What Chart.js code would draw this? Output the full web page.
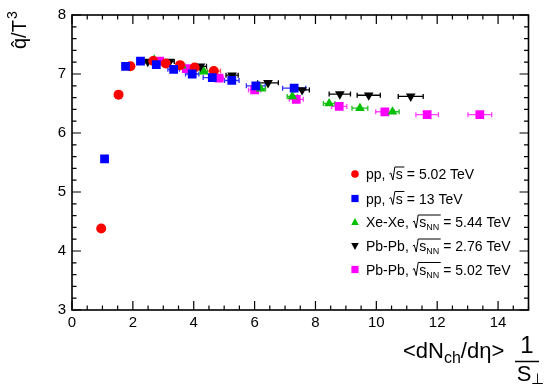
<!DOCTYPE html>
<html>
<head>
<meta charset="utf-8">
<script src="https://cdn.jsdelivr.net/npm/chart.js@4.4.1/dist/chart.umd.min.js"></script>
<style>
  html, body { margin: 0; padding: 0; background: #fff; }
</style>
</head>
<body>
<canvas id="chart" width="550" height="387"></canvas>
<script>
// ---------------- DATA ----------------
const pp502X = [0.96, 1.53, 1.92, 2.67, 3.08, 3.55, 4.03, 4.66];
const pp502Y = [4.38, 6.65, 7.13, 7.22, 7.18, 7.15, 7.11, 7.05];
const pp502E = [0.03, 0.05, 0.06, 0.08, 0.1, 0.12, 0.16, 0.22];

const pp13X = [1.07, 1.76, 2.25, 2.77, 3.34, 3.95, 4.61, 5.25, 6.04, 7.30];
const pp13Y = [5.56, 7.13, 7.22, 7.16, 7.08, 7.00, 6.94, 6.89, 6.80, 6.76];
const pp13E = [0.03, 0.05, 0.07, 0.1, 0.19, 0.22, 0.3, 0.24, 0.31, 0.38];

const xexeX = [2.70, 3.61, 4.33, 6.20, 7.24, 8.45, 9.46, 10.53];
const xexeY = [7.24, 7.14, 7.04, 6.75, 6.62, 6.50, 6.42, 6.36];
const xexeE = [0.08, 0.1, 0.12, 0.16, 0.17, 0.19, 0.26, 0.22];

const pbpb276X = [2.49, 3.21, 4.22, 5.26, 6.44, 7.56, 8.80, 9.75, 11.13];
const pbpb276Y = [7.21, 7.21, 7.13, 6.98, 6.85, 6.73, 6.66, 6.64, 6.62];
const pbpb276E = [0.1, 0.15, 0.2, 0.2, 0.34, 0.24, 0.35, 0.38, 0.41];

const pbpb502X = [2.88, 3.76, 4.83, 6.00, 7.37, 8.78, 10.28, 11.67, 13.40];
const pbpb502Y = [7.22, 7.09, 6.93, 6.73, 6.57, 6.45, 6.36, 6.31, 6.31];
const pbpb502E = [0.1, 0.12, 0.15, 0.2, 0.23, 0.25, 0.3, 0.37, 0.39];

const xTicks = [0, 2, 4, 6, 8, 10, 12, 14];
const yTicks = [3, 4, 5, 6, 7, 8];

const FONT = "'Liberation Sans', Arial, sans-serif";

// ---------------- SERIES ----------------
const series = [
  { label: "pp", energy: "5.02", nn: false, x: pp502X, y: pp502Y, e: pp502E,
    color: "#ff0000", err: "#ff5050", style: "circle", radius: 5, order: 1 },
  { label: "pp", energy: "13", nn: false, x: pp13X, y: pp13Y, e: pp13E,
    color: "#0000ff", err: "#3030ff", style: "rect", radius: 6.2, order: 0 },
  { label: "Xe-Xe", energy: "5.44", nn: true, x: xexeX, y: xexeY, e: xexeE,
    color: "#00c000", err: "#20c020", style: "triangle", radius: 5.6, order: 3 },
  { label: "Pb-Pb", energy: "2.76", nn: true, x: pbpb276X, y: pbpb276Y, e: pbpb276E,
    color: "#000000", err: "#000000", style: "triangle", rotation: 180, radius: 5.6, order: 2 },
  { label: "Pb-Pb", energy: "5.02", nn: true, x: pbpb502X, y: pbpb502Y, e: pbpb502E,
    color: "#ff00ff", err: "#ff40ff", style: "rect", radius: 6.2, order: 4 }
];

const datasets = series.map(s => ({
  label: s.label,
  data: s.x.map((v, i) => ({ x: v, y: s.y[i] })),
  backgroundColor: s.color,
  borderColor: s.color,
  borderWidth: 0,
  pointStyle: s.style,
  rotation: s.rotation || 0,
  pointRadius: s.radius,
  pointHoverRadius: s.radius,
  order: s.order
}));

// ---------------- PLUGINS ----------------
// horizontal error bars under the markers
const errorBars = {
  id: "errorBars",
  beforeDatasetsDraw(chart) {
    const ctx = chart.ctx, xs = chart.scales.x, ys = chart.scales.y;
    ctx.save();
    ctx.lineWidth = 1.3;
    series.forEach(s => {
      ctx.strokeStyle = s.err;
      s.x.forEach((v, i) => {
        const x1 = xs.getPixelForValue(v - s.e[i]);
        const x2 = xs.getPixelForValue(v + s.e[i]);
        const y = ys.getPixelForValue(s.y[i]);
        ctx.beginPath();
        ctx.moveTo(x1, y); ctx.lineTo(x2, y);
        ctx.moveTo(x1, y - 2.5); ctx.lineTo(x1, y + 2.5);
        ctx.moveTo(x2, y - 2.5); ctx.lineTo(x2, y + 2.5);
        ctx.stroke();
      });
    });
    ctx.restore();
  }
};

function marker(ctx, s, x, y) {
  ctx.fillStyle = s.color;
  ctx.beginPath();
  if (s.style === "circle") {
    ctx.arc(x, y, 3.8, 0, Math.PI * 2);
  } else if (s.style === "rect") {
    ctx.rect(x - 3.6, y - 3.6, 7.2, 7.2);
  } else {
    const d = s.rotation ? -1 : 1;
    ctx.moveTo(x, y - 4 * d);
    ctx.lineTo(x - 3.8, y + 3 * d);
    ctx.lineTo(x + 3.8, y + 3 * d);
    ctx.closePath();
  }
  ctx.fill();
}

function sqrtText(ctx, x, base, nn) {
  // radical sign with overline over s (and NN)
  ctx.font = "14px " + FONT;
  const sw = ctx.measureText("s").width;
  ctx.font = "9px " + FONT;
  const nw = nn ? ctx.measureText("NN").width : 0;
  const top = base - 12;
  ctx.lineWidth = 1;
  ctx.strokeStyle = "#000";
  ctx.beginPath();
  ctx.moveTo(x, base - 5);
  ctx.lineTo(x + 1.5, base - 6);
  ctx.lineTo(x + 3.5, base + 1);
  ctx.lineTo(x + 5.5, top);
  ctx.lineTo(x + 7 + sw + nw + 1, top);
  ctx.stroke();
  ctx.font = "14px " + FONT;
  ctx.fillText("s", x + 6.5, base);
  let end = x + 6.5 + sw;
  if (nn) {
    ctx.font = "9px " + FONT;
    ctx.fillText("NN", end, base + 3);
    end += nw;
  }
  return end + 2;
}

const decorations = {
  id: "decorations",
  afterDraw(chart) {
    const ctx = chart.ctx, xs = chart.scales.x, ys = chart.scales.y;
    const a = chart.chartArea;
    ctx.save();

    // frame
    ctx.strokeStyle = "#000";
    ctx.lineWidth = 1.6;
    ctx.strokeRect(a.left, a.top, a.right - a.left, a.bottom - a.top);

    // inward ticks on all four sides
    ctx.lineWidth = 1.2;
    ctx.beginPath();
    for (let v = 0; v <= 15.001; v += 0.5) {
      const px = xs.getPixelForValue(v);
      const len = (Math.abs(v % 2) < 1e-6) ? 9 : 4.5;
      ctx.moveTo(px, a.bottom); ctx.lineTo(px, a.bottom - len);
      ctx.moveTo(px, a.top); ctx.lineTo(px, a.top + len);
    }
    for (let k = 0; k <= 25; k++) {
      const v = 3 + k * 0.2;
      const py = ys.getPixelForValue(v);
      const len = (k % 5 === 0) ? 9 : 4.5;
      ctx.moveTo(a.left, py); ctx.lineTo(a.left + len, py);
      ctx.moveTo(a.right, py); ctx.lineTo(a.right - len, py);
    }
    ctx.stroke();

    // y title
    ctx.fillStyle = "#000";
    ctx.save();
    ctx.translate(26, 49);
    ctx.rotate(-Math.PI / 2);
    ctx.font = "20px " + FONT;
    ctx.textBaseline = "alphabetic";
    ctx.fillText("q\u0302/T", 0, 0);
    const tw = ctx.measureText("q\u0302/T").width;
    ctx.font = "14px " + FONT;
    ctx.fillText("3", tw + 1, -9);
    ctx.restore();

    // x title
    ctx.font = "22px " + FONT;
    let x = 403;
    const b = 358;
    ctx.fillText("<dN", x, b);
    x += ctx.measureText("<dN").width;
    ctx.font = "16px " + FONT;
    ctx.fillText("ch", x, b + 5);
    x += ctx.measureText("ch").width;
    ctx.font = "22px " + FONT;
    ctx.fillText("/d\u03b7>", x, b);
    ctx.textAlign = "center";
    ctx.font = "24px " + FONT;
    ctx.fillText("1", 527, 353);
    ctx.lineWidth = 1.5;
    ctx.beginPath();
    ctx.moveTo(515, 361.5); ctx.lineTo(539, 361.5);
    ctx.stroke();
    ctx.font = "22px " + FONT;
    ctx.fillText("S", 524, 381);
    ctx.font = "15px " + FONT;
    ctx.fillText("\u22a5", 537, 384);
    ctx.textAlign = "left";

    // legend
    const rows = [174, 198.5, 222, 246, 269.5];
    series.forEach((s, i) => {
      const cy = rows[i];
      const base = cy + 5;
      marker(ctx, s, 355, cy);
      ctx.fillStyle = "#000";
      ctx.font = "14px " + FONT;
      let tx = 366;
      ctx.fillText(s.label + ", ", tx, base);
      tx += ctx.measureText(s.label + ", ").width;
      tx = sqrtText(ctx, tx, base, s.nn);
      ctx.font = "14px " + FONT;
      ctx.fillText("= " + s.energy + " TeV", tx + 2, base);
    });

    ctx.restore();
  }
};

// ---------------- CHART ----------------
new Chart(document.getElementById("chart"), {
  type: "scatter",
  data: { datasets: datasets },
  options: {
    responsive: false,
    animation: false,
    events: [],
    layout: { padding: { left: 0, top: 12, right: 21.5, bottom: 0 } },
    plugins: { legend: { display: false }, tooltip: { enabled: false } },
    scales: {
      x: {
        type: "linear", min: 0, max: 15,
        afterFit: s => { s.height = 77; },
        afterBuildTicks: s => { s.ticks = xTicks.map(v => ({ value: v })); },
        grid: { display: false, drawTicks: false },
        border: { display: false },
        ticks: { padding: 4, color: "#000", font: { family: FONT, size: 15 }, maxRotation: 0 }
      },
      y: {
        type: "linear", min: 3, max: 8,
        afterFit: s => { s.width = 72; },
        afterBuildTicks: s => { s.ticks = yTicks.map(v => ({ value: v })); },
        grid: { display: false, drawTicks: false },
        border: { display: false },
        ticks: { padding: 6, color: "#000", font: { family: FONT, size: 15 } }
      }
    }
  },
  plugins: [errorBars, decorations]
});
</script>
</body>
</html>
